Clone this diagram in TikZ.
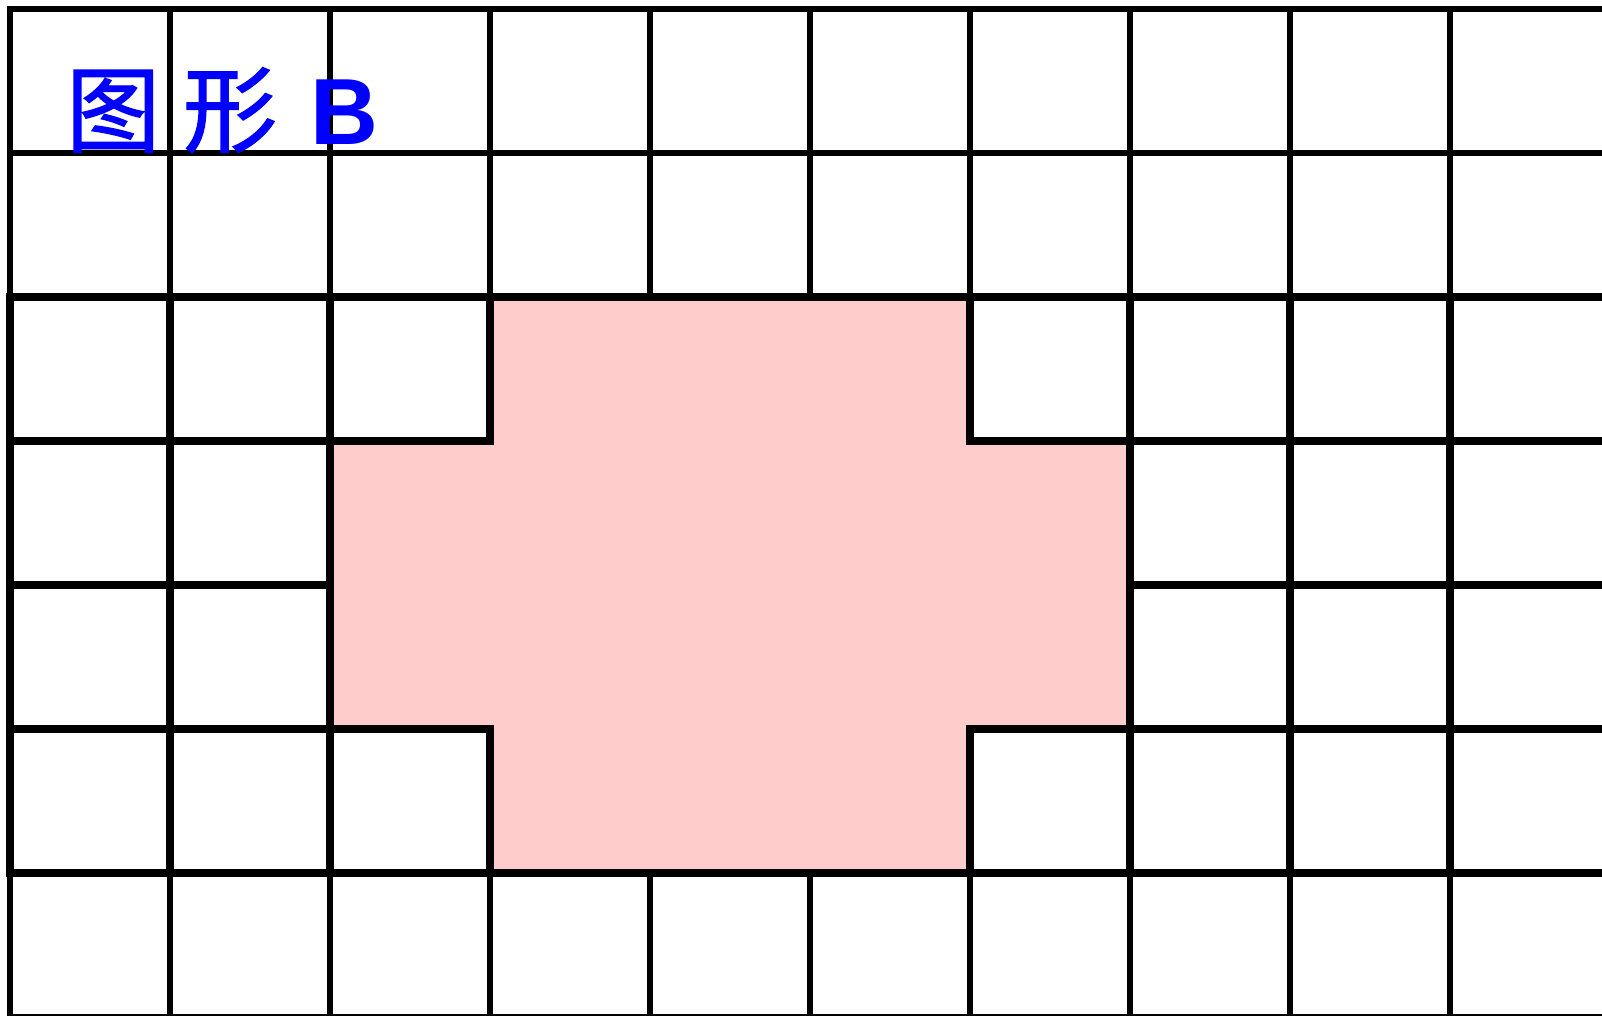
\documentclass[tikz,border=0pt]{standalone}
\usepackage{fontspec}
\setmainfont{Liberation Sans}
\newfontfamily\cjkfont[FakeBold=1.5]{Noto Sans CJK SC}
\definecolor{shapepink}{HTML}{FFCCCC}
\definecolor{labelblue}{HTML}{0000FF}
\begin{document}
\begin{tikzpicture}[x=1pt,y=-1pt,
  thingrid/.style={line width=6pt, line cap=rect, black},
  thickgrid/.style={line width=8pt, line cap=rect, black},
  outline/.style={line width=8pt, line join=miter, black}]
\useasboundingbox (0,0) rectangle (1602,1016);
\fill[white] (0,0) rectangle (1602,1016);
\clip (0,0) rectangle (1602,1016);
% thin grid everywhere
\foreach \i in {0,...,10} \draw[thingrid] ({10+160*\i},9) -- ({10+160*\i},1017);
\foreach \j in {0,...,7} \draw[thingrid] (10,{9+144*\j}) -- (1610,{9+144*\j});
% thick grid in the middle rows
\foreach \i in {0,...,10} \draw[thickgrid] ({10+160*\i},297) -- ({10+160*\i},873);
\foreach \j in {2,...,6} \draw[thickgrid] (10,{9+144*\j}) -- (1610,{9+144*\j});
% pink cross-shaped figure
\fill[shapepink] (490,297) -- (970,297) -- (970,441) -- (1130,441) -- (1130,729)
  -- (970,729) -- (970,873) -- (490,873) -- (490,729) -- (330,729) -- (330,441)
  -- (490,441) -- cycle;
\draw[outline] (490,297) -- (970,297) -- (970,441) -- (1130,441) -- (1130,729)
  -- (970,729) -- (970,873) -- (490,873) -- (490,729) -- (330,729) -- (330,441)
  -- (490,441) -- cycle;
% label
\node (label) [anchor=base west, inner sep=0pt, text=labelblue] at (66,145)
  {\fontsize{94}{94}\selectfont{\cjkfont 图\hspace{23pt}形}\hspace{33pt}\textbf{B}};
\end{tikzpicture}
\end{document}
